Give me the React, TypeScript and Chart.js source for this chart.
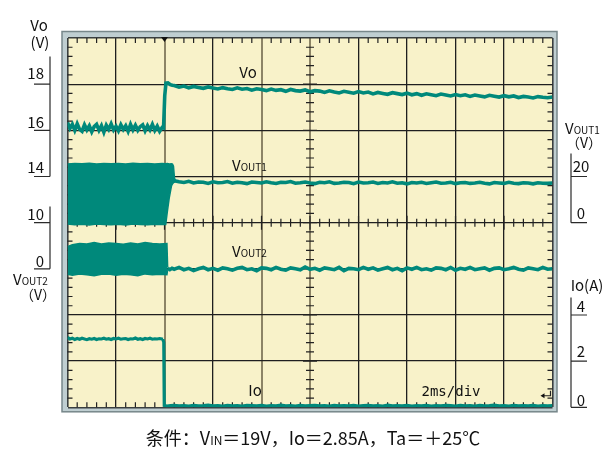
import React, { useEffect, useRef } from 'react';
import { Chart, registerables } from 'chart.js';

Chart.register(...registerables);

// ---------- data (time in ms, 2 ms/div, 10 div) ----------
const TIME_MIN = 0;
const TIME_MAX = 20;
const TIME_DIV = 2;
const SCREEN_DIVS = 8;

const PRE_T0 = 0;
const PRE_STEP = 0.1;
const POST_T0 = 4.4;
const POST_STEP = 0.2;

// Vo (V), 2 V/div, 18 V on 7th division
const VO_PRE = [
  16.34, 16.08, 16.26, 16.00, 16.28, 16.04, 15.96, 16.24, 16.02, 16.20,
  15.94, 16.16, 16.26, 16.00, 16.20, 15.92, 16.22, 16.04, 16.28, 16.02,
  16.18, 15.98, 16.24, 16.04, 16.20, 15.96, 16.26, 16.02, 16.22, 16.00,
  16.16, 16.24, 15.98, 16.20, 16.02, 16.26, 16.00, 16.18, 15.96, 16.12,
];
const VO_EDGE_T = [3.96, 4.01, 4.06, 4.14, 4.24, 4.32];
const VO_EDGE_V = [16.10, 17.5, 18.05, 18.06, 17.98, 17.95];
const VO_POST = [
  17.94, 17.87, 17.92, 17.84, 17.90, 17.86, 17.82, 17.88, 17.83, 17.79,
  17.85, 17.80, 17.77, 17.84, 17.78, 17.81, 17.74, 17.80, 17.77, 17.72,
  17.79, 17.73, 17.76, 17.69, 17.77, 17.72, 17.70, 17.75, 17.67, 17.72,
  17.70, 17.64, 17.71, 17.66, 17.62, 17.69, 17.65, 17.61, 17.68, 17.62,
  17.66, 17.58, 17.64, 17.60, 17.56, 17.63, 17.59, 17.55, 17.61, 17.54,
  17.59, 17.52, 17.58, 17.54, 17.50, 17.57, 17.53, 17.49, 17.55, 17.50,
  17.54, 17.47, 17.53, 17.49, 17.45, 17.52, 17.48, 17.44, 17.50, 17.45,
  17.49, 17.42, 17.47, 17.44, 17.40, 17.46, 17.43, 17.41, 17.44,
];

// VOUT1 (V), 20 V/div, 0 V on 4th division
const VOUT1_BAND_T = [0, 0.3, 0.6, 0.9, 1.2, 1.5, 1.8, 2.1, 2.4, 2.7, 3.0, 3.3, 3.6, 3.9, 4.05, 4.12, 4.2, 4.29, 4.33, 4.37, 4.41, 4.45];
const VOUT1_BAND_HI = [25.4, 25.6, 25.5, 25.7, 25.4, 25.6, 25.5, 25.6, 25.4, 25.7, 25.5, 25.6, 25.4, 25.6, 25.5, 25.6, 25.4, 25.5, 25.4, 24.5, 19.5, 18.0];
const VOUT1_BAND_LO = [-0.6, -0.9, -0.7, -1.0, -0.6, -0.8, -0.9, -0.7, -1.0, -0.6, -0.8, -0.9, -0.7, -0.8, -0.8, 5.0, 11.0, 16.0, 16.8, 17.3, 17.6, 17.9];
const VOUT1_POST = [
  18.2, 17.7, 17.4, 17.9, 17.2, 17.6, 17.5, 17.0, 17.7, 17.3,
  17.4, 17.8, 17.1, 17.5, 17.3, 16.9, 17.6, 17.4, 17.2, 17.7,
  17.3, 17.0, 17.5, 17.4, 17.8, 17.1, 17.3, 17.6, 17.2, 16.9,
  17.5, 17.3, 17.7, 17.0, 17.2, 17.5, 17.4, 16.9, 17.6, 17.2,
  17.3, 17.6, 17.0, 17.4, 17.2, 17.7, 17.1, 17.3, 16.8, 17.4,
  17.2, 17.5, 17.0, 17.3, 17.6, 17.1, 17.2, 17.5, 16.9, 17.3,
  17.4, 17.0, 17.2, 17.5, 17.1, 16.8, 17.4, 17.2, 17.0, 17.5,
  17.1, 16.9, 17.3, 17.2, 16.8, 17.3, 17.1, 17.0, 17.2,
];

// VOUT2 (V), 10 V/div, 0 V on 3rd division
const VOUT2_BAND_T = [0, 0.2, 0.5, 0.8, 1.1, 1.4, 1.7, 2.0, 2.3, 2.6, 2.9, 3.2, 3.5, 3.8, 4.1, 4.13];
const VOUT2_BAND_HI = [4.8, 5.2, 5.5, 5.4, 5.7, 5.4, 5.6, 5.5, 5.3, 5.6, 5.4, 5.7, 5.5, 5.4, 5.5, 0.3];
const VOUT2_BAND_LO = [-1.2, -1.4, -1.1, -1.3, -1.5, -1.2, -1.1, -1.4, -1.2, -1.3, -1.5, -1.1, -1.3, -1.2, -1.3, -0.3];
const VOUT2_EDGE_T = [4.13, 4.22, 4.31];
const VOUT2_EDGE_V = [0.1, -0.2, 0.1];
const VOUT2_POST = [
  -0.1, 0.3, -0.2, 0.1, -0.4, 0.0, 0.3, -0.2, 0.1, -0.3,
  0.2, 0.0, -0.3, 0.1, 0.3, -0.2, 0.0, -0.4, 0.2, 0.1,
  -0.2, 0.3, -0.1, -0.3, 0.2, 0.0, -0.2, 0.4, -0.1, 0.1,
  -0.3, 0.2, 0.0, -0.2, 0.3, -0.4, 0.1, 0.0, -0.2, 0.3,
  -0.1, 0.2, -0.3, 0.0, 0.3, -0.2, 0.1, -0.4, 0.2, -0.1,
  0.3, -0.2, 0.0, -0.3, 0.2, 0.1, -0.2, 0.3, -0.3, 0.1,
  -0.1, 0.3, -0.2, 0.0, 0.2, -0.3, 0.1, 0.2, -0.2, 0.0,
  0.3, -0.1, -0.3, 0.2, 0.0, -0.2, 0.3, -0.1, 0.0,
];

// Io (A), 2 A/div, 0 A on bottom division
const IO_PRE = [
  3.03, 2.96, 2.99, 2.94, 2.98, 2.95, 2.99, 2.96, 2.93, 2.97,
  2.95, 2.98, 2.94, 2.97, 2.96, 2.99, 2.95, 2.97, 2.94, 2.98,
  2.96, 2.99, 2.95, 2.97, 2.98, 2.94, 2.97, 2.96, 3.00, 2.95,
  2.97, 2.94, 2.98, 2.96, 2.99, 2.95, 2.97, 2.96, 2.98, 2.96,
];
const IO_EDGE_T = [3.93, 3.97, 3.99, 4.1, 4.25];
const IO_EDGE_V = [2.95, 2.82, 0.08, 0.05, 0.07];
const IO_POST = [
  0.08, 0.06, 0.07, 0.05, 0.08, 0.06, 0.07, 0.09, 0.06, 0.07,
  0.05, 0.08, 0.06, 0.07, 0.05, 0.08, 0.07, 0.06, 0.08, 0.05,
  0.07, 0.06, 0.09, 0.06, 0.07, 0.05, 0.08, 0.06, 0.07, 0.08,
  0.06, 0.07, 0.05, 0.08, 0.06, 0.07, 0.06, 0.08, 0.05, 0.07,
  0.08, 0.06, 0.07, 0.05, 0.09, 0.06, 0.07, 0.06, 0.08, 0.05,
  0.07, 0.06, 0.08, 0.05, 0.07, 0.06, 0.08, 0.07, 0.05, 0.08,
  0.06, 0.07, 0.05, 0.08, 0.06, 0.07, 0.09, 0.06, 0.07, 0.05,
  0.08, 0.06, 0.07, 0.06, 0.08, 0.05, 0.07, 0.06, 0.07,
];

// channel settings: reference value sits on division zeroDiv, units per division
const VO_REF = { zeroDiv: 7, refValue: 18, perDiv: 2 };
const VOUT1_REF = { zeroDiv: 4, refValue: 0, perDiv: 20 };
const VOUT2_REF = { zeroDiv: 3, refValue: 0, perDiv: 10 };
const IO_REF = { zeroDiv: 0, refValue: 0, perDiv: 2 };

// ---------- styles ----------
const FONT = '"Noto Sans CJK SC", "Noto Sans", "DejaVu Sans", sans-serif';
const TEAL = '#00897b';
const SCREEN = '#f8f2c9';
const FRAME_FILL = '#bfced1';
const FRAME_EDGE = '#77878a';
const GRID_BLACK = '#1f1f1f';
const GRID_GRAY = '#8c8466';
const GRID_EDGE = '#3a3f40';
const TICK = '#222222';

type Ref = { zeroDiv: number; refValue: number; perDiv: number };
const toDiv = (r: Ref) => (v: number) => r.zeroDiv + (v - r.refValue) / r.perDiv;
const series = (t0: number, step: number, vals: number[], r: Ref) =>
  vals.map((v, i) => ({ x: +(t0 + i * step).toFixed(3), y: toDiv(r)(v) }));
const paired = (ts: number[], vals: number[], r: Ref) => ts.map((t, i) => ({ x: t, y: toDiv(r)(vals[i]) }));

const scopePlugin = {
  id: 'scope',
  beforeDraw(chart: any) {
    const { ctx, chartArea: a } = chart;
    ctx.save();
    ctx.fillStyle = FRAME_FILL;
    ctx.fillRect(a.left - 5.5, a.top - 6.5, a.width + 10, a.height + 11);
    ctx.strokeStyle = FRAME_EDGE;
    ctx.lineWidth = 1.5;
    ctx.strokeRect(a.left - 5.5, a.top - 6.5, a.width + 10, a.height + 11);
    ctx.fillStyle = SCREEN;
    ctx.fillRect(a.left, a.top, a.width, a.height);
    ctx.restore();
  },
  beforeDatasetsDraw(chart: any) {
    const { ctx, chartArea: a, scales } = chart;
    const x = scales.x, y = scales.y;
    const cx = x.getPixelForValue((TIME_MIN + TIME_MAX) / 2);
    const cy = y.getPixelForValue(SCREEN_DIVS / 2);
    ctx.save();
    ctx.strokeStyle = TICK;
    ctx.lineWidth = 1.2;
    ctx.beginPath();
    const nx = ((TIME_MAX - TIME_MIN) / TIME_DIV) * 5;
    for (let k = 1; k < nx; k++) {
      const px = x.getPixelForValue(TIME_MIN + (k * TIME_DIV) / 5);
      if (k % 5 === 0) {
        ctx.moveTo(px, cy - 7); ctx.lineTo(px, cy + 7);
        continue;
      }
      ctx.moveTo(px, a.top); ctx.lineTo(px, a.top + 5);
      ctx.moveTo(px, a.bottom); ctx.lineTo(px, a.bottom - 5);
      ctx.moveTo(px, cy - 4); ctx.lineTo(px, cy + 4);
    }
    const ny = SCREEN_DIVS * 5;
    for (let k = 1; k < ny; k++) {
      const py = y.getPixelForValue(k / 5);
      if (k % 5 === 0) {
        ctx.moveTo(cx - 7, py); ctx.lineTo(cx + 7, py);
        continue;
      }
      ctx.moveTo(a.left, py); ctx.lineTo(a.left + 5, py);
      ctx.moveTo(a.right, py); ctx.lineTo(a.right - 5, py);
      ctx.moveTo(cx - 4, py); ctx.lineTo(cx + 4, py);
    }
    ctx.stroke();
    ctx.restore();
  },
  afterDatasetsDraw(chart: any) {
    const { ctx, chartArea: a, scales } = chart;
    const x = scales.x, y = scales.y;
    ctx.save();
    // trigger marker
    const tx = x.getPixelForValue(4);
    ctx.fillStyle = '#111';
    ctx.beginPath();
    ctx.moveTo(tx - 3.5, a.top - 1);
    ctx.lineTo(tx + 3.5, a.top - 1);
    ctx.lineTo(tx, a.top + 4);
    ctx.closePath();
    ctx.fill();
    // ground arrow
    const ay = y.getPixelForValue(0.25);
    const ar = a.right - 2;
    ctx.strokeStyle = '#222';
    ctx.lineWidth = 1.2;
    ctx.beginPath();
    ctx.moveTo(ar - 8, ay); ctx.lineTo(ar, ay); ctx.lineTo(ar, ay - 5);
    ctx.stroke();
    ctx.beginPath();
    ctx.moveTo(ar - 10, ay); ctx.lineTo(ar - 6, ay - 2.5); ctx.lineTo(ar - 6, ay + 2.5);
    ctx.closePath();
    ctx.fill();
    // scale brackets
    const yp = (d: number) => y.getPixelForValue(d);
    const line = (x1: number, y1: number, x2: number, y2: number) => { ctx.moveTo(x1, y1); ctx.lineTo(x2, y2); };
    ctx.strokeStyle = '#2a2a2a';
    ctx.lineWidth = 1.2;
    ctx.beginPath();
    const lx = a.left - 17.5, lx0 = a.left - 33.5;
    line(lx, yp(7.6), lx, yp(5));
    [7, 6, 5].forEach((d) => line(lx0, yp(d), lx, yp(d)));
    line(lx, yp(4.35), lx, yp(3));
    [4, 3].forEach((d) => line(lx0, yp(d), lx, yp(d)));
    const rx = a.right + 18.5, rx1 = a.right + 34.5;
    line(rx, yp(5.5), rx, yp(4));
    [5, 4].forEach((d) => line(rx, yp(d), rx1, yp(d)));
    line(rx, yp(2.38), rx, yp(0));
    [2, 1, 0].forEach((d) => line(rx, yp(d), rx1, yp(d)));
    ctx.stroke();
    ctx.restore();
  },
};

type TxtProps = { x: number; y: number; size?: number; align?: 'left' | 'center' | 'right'; children: React.ReactNode; style?: React.CSSProperties };
function Txt({ x, y, size = 15, align = 'center', children, style }: TxtProps) {
  const tx = align === 'center' ? '-50%' : align === 'right' ? '-100%' : '0';
  return (
    <div
      style={{
        position: 'absolute', left: x, top: y, transform: `translate(${tx}, -50%)`,
        fontSize: size, lineHeight: 1, whiteSpace: 'nowrap', color: '#111', fontFamily: FONT, ...style,
      }}
    >
      {children}
    </div>
  );
}

export default function App() {
  const ref = useRef<HTMLCanvasElement | null>(null);

  useEffect(() => {
    if (!ref.current) return;
    const line = (data: any[], width = 3.6) => ({
      data, borderColor: TEAL, backgroundColor: TEAL, borderWidth: width, fill: false,
      pointRadius: 0, tension: 0, borderJoinStyle: 'miter' as const,
    });
    const datasets: any[] = [
      { ...line(paired(VOUT1_BAND_T, VOUT1_BAND_HI, VOUT1_REF), 1.5), fill: '+1' },
      line(paired(VOUT1_BAND_T, VOUT1_BAND_LO, VOUT1_REF), 1.5),
      { ...line(paired(VOUT2_BAND_T, VOUT2_BAND_HI, VOUT2_REF), 1.5), fill: '+1' },
      line(paired(VOUT2_BAND_T, VOUT2_BAND_LO, VOUT2_REF), 1.5),
      line([
        ...series(PRE_T0, PRE_STEP, VO_PRE, VO_REF),
        ...paired(VO_EDGE_T, VO_EDGE_V, VO_REF),
        ...series(POST_T0, POST_STEP, VO_POST, VO_REF),
      ]),
      line(series(POST_T0, POST_STEP, VOUT1_POST, VOUT1_REF)),
      line([
        ...paired(VOUT2_EDGE_T, VOUT2_EDGE_V, VOUT2_REF),
        ...series(POST_T0, POST_STEP, VOUT2_POST, VOUT2_REF),
      ]),
      line([
        ...series(PRE_T0, PRE_STEP, IO_PRE, IO_REF),
        ...paired(IO_EDGE_T, IO_EDGE_V, IO_REF),
        ...series(POST_T0, POST_STEP, IO_POST, IO_REF),
      ], 3.2),
    ];
    const xColor = (c: any) => {
      const v = c.tick.value;
      if (v === TIME_MIN || v === TIME_MAX) return GRID_EDGE;
      if (v === 4 || v === 8 || v === 10) return GRID_GRAY;
      return GRID_BLACK;
    };
    const xWidth = (c: any) => {
      const v = c.tick.value;
      if (v === TIME_MIN || v === TIME_MAX) return 1.6;
      if (v === 4 || v === 8 || v === 10) return 2;
      return 1.3;
    };
    const chart = new Chart(ref.current, {
      type: 'line',
      data: { datasets },
      options: {
        animation: false,
        responsive: false,
        devicePixelRatio: 1,
        events: [],
        layout: { padding: { left: 67.5, right: 61.5, top: 38, bottom: 42.7 }, autoPadding: false },
        plugins: { legend: { display: false }, tooltip: { enabled: false }, title: { display: false } },
        scales: {
          x: {
            type: 'linear', min: TIME_MIN, max: TIME_MAX,
            ticks: { display: false, stepSize: TIME_DIV },
            grid: { drawTicks: false, color: xColor, lineWidth: xWidth },
            border: { display: false },
          },
          y: {
            type: 'linear', min: 0, max: SCREEN_DIVS,
            ticks: { display: false, stepSize: 1 },
            grid: {
              drawTicks: false,
              color: (c: any) => (c.tick.value === 0 || c.tick.value === SCREEN_DIVS ? GRID_EDGE : GRID_BLACK),
              lineWidth: (c: any) => (c.tick.value === 0 || c.tick.value === SCREEN_DIVS ? 1.6 : 1.3),
            },
            border: { display: false },
          },
        },
      } as any,
      plugins: [scopePlugin],
    });
    return () => chart.destroy();
  }, []);

  const small = { fontSize: 10 };
  return (
    <div style={{ position: 'absolute', left: 0, top: 0, width: 614, height: 450, background: '#fff', fontFamily: FONT }}>
      <canvas ref={ref} width={614} height={450} style={{ position: 'absolute', left: 0, top: 0, width: 614, height: 450 }} />
      {/* left scale */}
      <Txt x={39} y={24}>Vo</Txt>
      <Txt x={40} y={41}>(V)</Txt>
      <Txt x={44} y={72} align="right">18</Txt>
      <Txt x={44} y={120.5} align="right">16</Txt>
      <Txt x={44} y={165.5} align="right">14</Txt>
      <Txt x={44} y={213} align="right">10</Txt>
      <Txt x={44} y={260} align="right">0</Txt>
      <Txt x={13} y={278} align="left">V<span style={small}>OUT2</span></Txt>
      <Txt x={38} y={294} size={14}>（V）</Txt>
      {/* right scale */}
      <Txt x={565} y={127} align="left">V<span style={small}>OUT1</span></Txt>
      <Txt x={584} y={142} size={14}>（V）</Txt>
      <Txt x={581} y={165}>20</Txt>
      <Txt x={581} y={212}>0</Txt>
      <Txt x={587} y={284}>Io(A)</Txt>
      <Txt x={581} y={305}>4</Txt>
      <Txt x={581} y={350}>2</Txt>
      <Txt x={581} y={399}>0</Txt>
      {/* in-screen labels */}
      <Txt x={248} y={71}>Vo</Txt>
      <Txt x={232} y={164} align="left">V<span style={small}>OUT1</span></Txt>
      <Txt x={232} y={250} align="left">V<span style={small}>OUT2</span></Txt>
      <Txt x={255} y={389}>Io</Txt>
      <Txt x={451} y={391} size={14} style={{ fontFamily: '"DejaVu Sans Mono", monospace' }}>2ms/div</Txt>
      {/* caption */}
      <Txt x={313} y={437} size={18}>
        条件：V<span style={{ fontSize: 12 }}>IN</span>＝19V，Io＝2.85A，Ta＝＋25℃
      </Txt>
    </div>
  );
}
